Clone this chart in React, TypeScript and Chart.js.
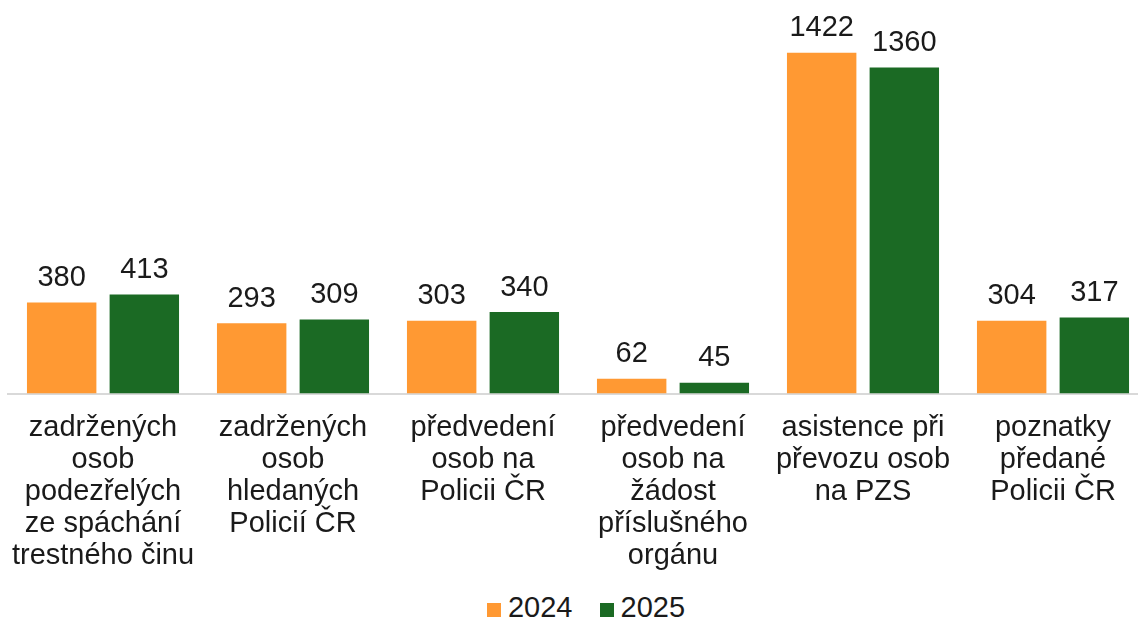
import React, { useEffect, useRef } from "react";
import { Chart, registerables } from "chart.js";

Chart.register(...registerables);

const categories: string[][] = [
  ["zadržených", "osob", "podezřelých", "ze spáchání", "trestného činu"],
  ["zadržených", "osob", "hledaných", "Policií ČR"],
  ["předvedení", "osob na", "Policii ČR"],
  ["předvedení", "osob na", "žádost", "příslušného", "orgánu"],
  ["asistence při", "převozu osob", "na PZS"],
  ["poznatky", "předané", "Policii ČR"],
];
const seriesNames = ["2024", "2025"];
const values2024 = [380, 293, 303, 62, 1422, 304];
const values2025 = [413, 309, 340, 45, 1360, 317];
const colors = ["#FF9933", "#1B6A24"];

const FONT = "'Liberation Sans', Arial, sans-serif";
const FONT_SIZE = 29;

const valueLabels = {
  id: "valueLabels",
  afterDatasetsDraw(chart: any) {
    const ctx = chart.ctx;
    ctx.save();
    ctx.font = `${FONT_SIZE}px ${FONT}`;
    ctx.fillStyle = "#1a1a1a";
    ctx.textAlign = "center";
    ctx.textBaseline = "alphabetic";
    chart.data.datasets.forEach((ds: any, i: number) => {
      const meta = chart.getDatasetMeta(i);
      meta.data.forEach((bar: any, j: number) => {
        ctx.fillText(String(ds.data[j]), bar.x, bar.y - 16.5);
      });
    });
    ctx.restore();
  },
};

export default function App() {
  const ref = useRef<HTMLCanvasElement | null>(null);
  useEffect(() => {
    if (!ref.current) return;
    const chart = new Chart(ref.current, {
      type: "bar",
      data: {
        labels: categories,
        datasets: [
          { label: seriesNames[0], data: values2024, backgroundColor: colors[0] },
          { label: seriesNames[1], data: values2025, backgroundColor: colors[1] },
        ],
      },
      options: {
        animation: false,
        responsive: false,
        maintainAspectRatio: false,
        layout: { padding: { left: 8, right: 12, top: 10, bottom: 0 } },
        datasets: {
          bar: { categoryPercentage: 0.87, barPercentage: 0.84 },
        },
        plugins: {
          legend: { display: false },
          tooltip: { enabled: false },
        },
        scales: {
          x: {
            grid: { display: false, drawTicks: false },
            border: { display: true, color: "#D9D9D9", width: 2 },
            ticks: {
              color: "#1a1a1a",
              font: { family: FONT, size: FONT_SIZE, lineHeight: 1.1 },
              padding: 19,
              maxRotation: 0,
              minRotation: 0,
              autoSkip: false,
            },
            afterFit(scale: any) {
              scale.paddingLeft = 0;
              scale.paddingRight = 0;
            },
          },
          y: {
            display: false,
            min: 0,
            max: 1600,
          },
        },
      },
      plugins: [valueLabels],
    });
    return () => chart.destroy();
  }, []);

  return (
    <div
      style={{
        position: "absolute",
        left: 0,
        top: 0,
        width: 1138,
        height: 619,
        overflow: "hidden",
        background: "#fff",
      }}
    >
      <canvas ref={ref} width={1160} height={591} style={{ display: "block", width: 1160, height: 591 }} />
      <div
        style={{
          position: "absolute",
          left: 6,
          top: 594,
          width: 1160,
          height: 26,
          display: "flex",
          justifyContent: "center",
          alignItems: "center",
          fontFamily: FONT,
          fontSize: FONT_SIZE,
          color: "#1a1a1a",
          lineHeight: "26px",
        }}
      >
        {seriesNames.map((name, i) => (
          <div key={name} style={{ display: "flex", alignItems: "center", marginLeft: i === 0 ? 0 : 27 }}>
            <span style={{ display: "inline-block", width: 14, height: 14, background: colors[i], marginRight: 7, marginTop: 6 }} />
            <span>{name}</span>
          </div>
        ))}
      </div>
    </div>
  );
}
